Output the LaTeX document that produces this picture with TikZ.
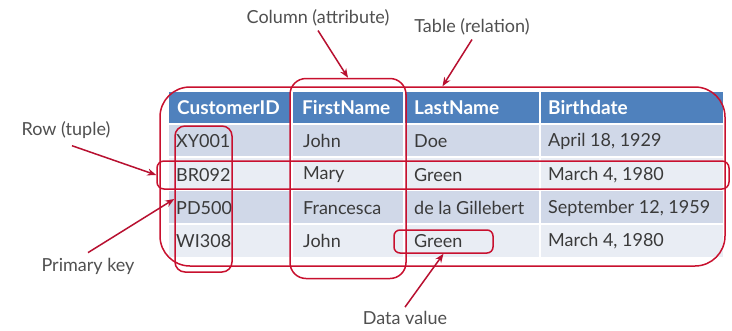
\documentclass[tikz,border=0pt]{standalone}
\usepackage{fontspec}
\setmainfont{Lato}
\usetikzlibrary{arrows.meta}
\definecolor{hdr}{HTML}{4F81BD}
\definecolor{rowA}{HTML}{D0D8E8}
\definecolor{rowB}{HTML}{E9EDF4}
\definecolor{txt}{HTML}{3A3A3A}
\definecolor{lbl}{HTML}{505050}
\definecolor{boxred}{HTML}{C8102E}
\definecolor{arrred}{HTML}{B81030}
\tikzset{
  hd/.style={anchor=west, inner sep=0pt, text=white, font=\fontsize{19}{21}\selectfont\bfseries},
  cell/.style={anchor=west, inner sep=0pt, text=txt, font=\fontsize{18}{20}\selectfont},
  lab/.style={inner sep=2pt, text=lbl, font=\fontsize{18}{20}\selectfont},
  redbox/.style={draw=boxred, line width=1.5pt, fill=none, inner sep=0pt},
  arr/.style={draw=arrred, line width=1.5pt, -{Stealth[length=9pt,width=7pt]}},
  sep/.style={white, line width=2pt}
}
\begin{document}
\begin{tikzpicture}[x=1pt,y=-1pt]
\useasboundingbox (0,0) rectangle (732,330);
\fill[white] (0,0) rectangle (732,330);
% table background
\fill[hdr] (169,92) rectangle (723,124);
\fill[rowA] (169,124) rectangle (723,157);
\fill[rowB] (169,157) rectangle (723,190);
\fill[rowA] (169,190) rectangle (723,224);
\fill[rowB] (169,224) rectangle (723,257);
\foreach \xx in {292,404,540} \draw[sep] (\xx,92) -- (\xx,257);
\foreach \yy in {124,157,190,224} \draw[sep] (169,\yy) -- (723,\yy);
% header
\node[hd] (h1) at (177,108) {CustomerID};
\node[hd] (h2) at (302,108) {FirstName};
\node[hd] (h3) at (414,108) {LastName};
\node[hd] (h4) at (548,108) {Birthdate};
% rows
\node[cell] (c11) at (176,141) {XY001};
\node[cell] (c12) at (303,141) {John};
\node[cell] (c13) at (414,141) {Doe};
\node[cell] (c14) at (548,141) {April 18, 1929};
\node[cell] (c21) at (176,175) {BR092};
\node[cell] (c22) at (303,175) {Mary};
\node[cell] (c23) at (414,175) {Green};
\node[cell] (c24) at (548,175) {March 4, 1980};
\node[cell] (c31) at (176,208) {PD500};
\node[cell] (c32) at (303,208) {Francesca};
\node[cell] (c33) at (414,208) {de la Gillebert};
\node[cell] (c34) at (548,208) {September 12, 1959};
\node[cell] (c41) at (176,241) {WI308};
\node[cell] (c42) at (303,241) {John};
\node[cell] (c43) at (414,241) {Green};
\node[cell] (c44) at (548,241) {March 4, 1980};
% red outlines
\node[redbox, rounded corners=30pt, minimum width=565pt, minimum height=179pt] (tbl) at (442.5,176.5) {};
\node[redbox, rounded corners=7pt, minimum width=572pt, minimum height=28pt] (rowbox) at (443,175) {};
\node[redbox, rounded corners=10pt, minimum width=57pt, minimum height=146pt] (pkbox) at (203.5,199) {};
\node[redbox, rounded corners=16pt, minimum width=116pt, minimum height=200pt] (colbox) at (348,178.5) {};
\node[redbox, rounded corners=6pt, minimum width=99pt, minimum height=23pt] (dvbox) at (443.5,241.5) {};
% labels
\node[lab] (lcol) at (318,18) {Column (attribute)};
\node[lab] (ltab) at (472,27) {Table (relation)};
\node[lab] (lrow) at (66,130) {Row (tuple)};
\node[lab] (lpk) at (88,266) {Primary key};
\node[lab] (ldv) at (405,318) {Data value};
% arrows
\draw[arr] ([yshift=-2pt]lcol.south) -- (colbox.north);
\draw[arr] ([yshift=-2pt]ltab.south) -- (tbl.north);
\draw[arr] ([xshift=6pt,yshift=-5pt]lrow.south) -- (rowbox.west);
\draw[arr] ([yshift=3pt]lpk.north) -- (pkbox.west);
\draw[arr] ([yshift=2pt]ldv.north) -- (dvbox.south);
\end{tikzpicture}
\end{document}
